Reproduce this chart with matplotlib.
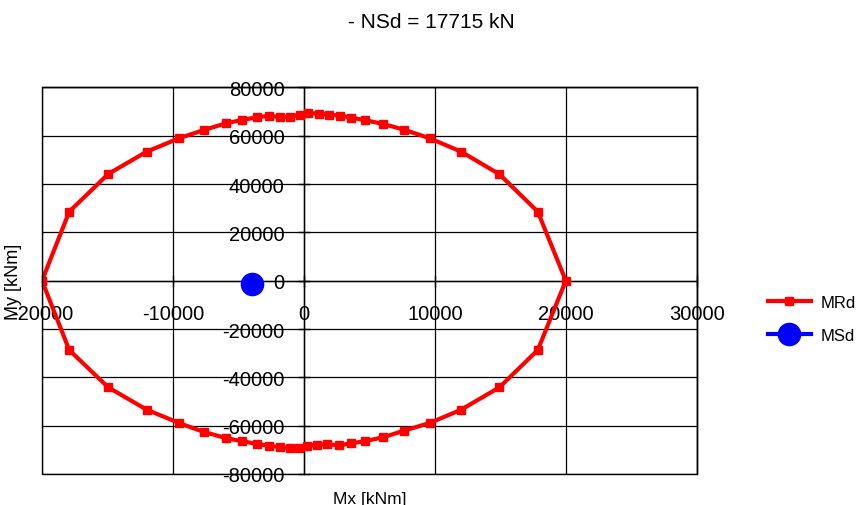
import matplotlib
matplotlib.use("Agg")
import matplotlib.pyplot as plt
from matplotlib.lines import Line2D

plt.rcParams["font.family"] = ["Liberation Sans", "DejaVu Sans"]
plt.rcParams["axes.unicode_minus"] = False

# interaction diagram MRd (Mx, My in kNm), closed polygon
mrd_x = [-20000, -17920, -14940, -12000, -9530, -7620, -5940, -4690, -3590, -2700,
         -1810, -1050, -280, 350, 1120, 1880, 2720, 3620, 4690, 6040, 7620, 9600,
         12000, 14930, 17860, 20000,
         17860, 14930, 12000, 9600, 7620, 6040, 4690, 3590, 2650, 1760, 990, 230,
         -410, -1050, -1810, -2700, -3590, -4690, -5940, -7620, -9530, -12000,
         -14940, -17920, -20000]
mrd_y = [0, 28570, 44180, 53420, 58960, 62400, 65170, 66540, 67650, 68200,
         67780, 67910, 68730, 69400, 69150, 68740, 68320, 67500, 66410, 64890, 62530, 58960,
         53420, 44060, 28570, 0,
         -28700, -44150, -53420, -58920, -62110, -64840, -66380, -67330, -68160, -67620,
         -67900, -68320, -69270, -69270, -68860, -68320, -67500, -66500, -65130, -62650,
         -58920, -53400, -44150, -28700, 0]

# design load point MSd
msd_x = [-4000]
msd_y = [-1500]

nsd = 17715

x_ticks = [-20000, -10000, 0, 10000, 20000, 30000]
y_ticks = [-80000, -60000, -40000, -20000, 0, 20000, 40000, 60000, 80000]

fig = plt.figure(figsize=(8.57, 5.06), dpi=100)
ax = fig.add_axes([0.049, 0.0613, 0.764, 0.764])

ax.plot(mrd_x, mrd_y, color="#ff0000", lw=3, marker="s", ms=5.8, zorder=3)
ax.plot(msd_x, msd_y, color="#0000ff", lw=3, marker="o", ms=16, ls="none", zorder=4)

ax.set_xlim(-20000, 30000)
ax.set_ylim(-80000, 80000)
ax.set_xticks(x_ticks)
ax.set_yticks(y_ticks)
ax.grid(True, color="black", lw=0.9)
ax.set_axisbelow(True)

# axes cross at the origin; outer frame kept as a plain box
ax.spines["left"].set_position(("data", 0))
ax.spines["bottom"].set_position(("data", 0))
for s in ax.spines.values():
    s.set_color("black")
    s.set_linewidth(1.0)
ax.add_patch(plt.Rectangle((0, 0), 1, 1, transform=ax.transAxes, fill=False,
                           ec="black", lw=1.0, zorder=5, clip_on=False))
ax.tick_params(axis="both", direction="inout", length=8, width=1, labelsize=14.5)
ax.tick_params(axis="x", pad=13)
ax.tick_params(axis="y", pad=10)

ax.set_xlabel("Mx [kNm]", fontsize=12.5)
ax.xaxis.set_label_coords(0.5, -0.045)
ax.set_ylabel("My [kNm]", fontsize=13)
ax.yaxis.set_label_coords(-0.031, 0.5)

fig.text(0.503, 0.955, f"- NSd = {nsd} kN", ha="center", va="center", fontsize=15)

handles = [Line2D([], [], color="#ff0000", lw=3, marker="s", ms=5.8),
           Line2D([], [], color="#0000ff", lw=3, marker="o", ms=16)]
fig.legend(handles, ["MRd", "MSd"], loc="center left", bbox_to_anchor=(0.888, 0.368),
           frameon=False, fontsize=12, handlelength=2.6, labelspacing=1.05,
           handletextpad=0.6, borderaxespad=0)

fig.savefig("out.png", dpi=100)
